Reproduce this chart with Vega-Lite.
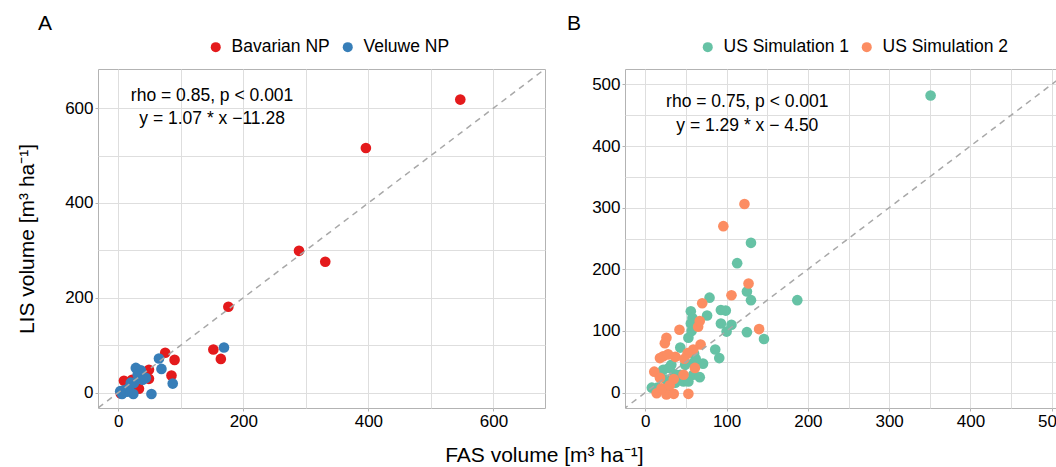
{
  "$schema": "https://vega.github.io/schema/vega-lite/v6.json",
  "autosize": {"type": "pad"},
  "padding": {"left": 16, "top": 12, "right": 0, "bottom": 0},
  "background": "white",
  "title": {"text": "FAS volume [m³ ha⁻¹]", "orient": "bottom", "anchor": "middle", "fontSize": 21, "fontWeight": "normal", "offset": 15, "color": "black"},
  "spacing": 20,
  "resolve": {"scale": {"color": "independent"}, "legend": {"color": "independent"}},
  "hconcat": [
    {
      "width": 447,
      "height": 339,
      "title": {"text": "A", "anchor": "start", "frame": "group", "dx": -60, "fontSize": 21, "fontWeight": "normal", "color": "black"},
      "encoding": {
        "x": {"field": "fas", "type": "quantitative", "scale": {"domain": [-32.5, 682.5], "nice": false, "zero": false},
          "axis": {"title": null, "values": [0, 100, 200, 300, 400, 500, 600], "labelExpr": "datum.value % 200 == 0 ? datum.label : ''", "labelFlush": false,
            "tickColor": {"condition": {"test": "datum.value % 200 != 0", "value": "transparent"}, "value": "#B3B3B3"}}},
        "y": {"field": "lis", "type": "quantitative", "scale": {"domain": [-32.5, 682.5], "nice": false, "zero": false},
          "axis": {"title": "LIS volume [m³ ha⁻¹]", "titlePadding": 27, "values": [0, 100, 200, 300, 400, 500, 600], "labelExpr": "datum.value % 200 == 0 ? datum.label : ''",
            "tickColor": {"condition": {"test": "datum.value % 200 != 0", "value": "transparent"}, "value": "#B3B3B3"}}}
      },
      "layer": [
        {
          "data": {"values": [
            {"site": "Bavarian NP", "fas": 547, "lis": 618},
            {"site": "Bavarian NP", "fas": 396, "lis": 516},
            {"site": "Bavarian NP", "fas": 289, "lis": 299},
            {"site": "Bavarian NP", "fas": 331, "lis": 276},
            {"site": "Bavarian NP", "fas": 176, "lis": 181},
            {"site": "Bavarian NP", "fas": 152, "lis": 91},
            {"site": "Bavarian NP", "fas": 164, "lis": 71},
            {"site": "Bavarian NP", "fas": 90, "lis": 69},
            {"site": "Bavarian NP", "fas": 75, "lis": 84},
            {"site": "Bavarian NP", "fas": 85, "lis": 36},
            {"site": "Bavarian NP", "fas": 49, "lis": 48},
            {"site": "Bavarian NP", "fas": 49, "lis": 29},
            {"site": "Bavarian NP", "fas": 33, "lis": 8},
            {"site": "Bavarian NP", "fas": 9, "lis": 25},
            {"site": "Bavarian NP", "fas": 22, "lis": 27},
            {"site": "Bavarian NP", "fas": 36, "lis": 41},
            {"site": "Bavarian NP", "fas": 4, "lis": -2},
            {"site": "Veluwe NP", "fas": 169, "lis": 95},
            {"site": "Veluwe NP", "fas": 65, "lis": 72},
            {"site": "Veluwe NP", "fas": 69, "lis": 50},
            {"site": "Veluwe NP", "fas": 87, "lis": 19},
            {"site": "Veluwe NP", "fas": 53, "lis": -3},
            {"site": "Veluwe NP", "fas": 28, "lis": 52},
            {"site": "Veluwe NP", "fas": 36, "lis": 47},
            {"site": "Veluwe NP", "fas": 44, "lis": 31},
            {"site": "Veluwe NP", "fas": 25, "lis": 20},
            {"site": "Veluwe NP", "fas": 17, "lis": 10},
            {"site": "Veluwe NP", "fas": 9, "lis": 5},
            {"site": "Veluwe NP", "fas": 24, "lis": -3},
            {"site": "Veluwe NP", "fas": 6, "lis": -3},
            {"site": "Veluwe NP", "fas": 20, "lis": 21},
            {"site": "Veluwe NP", "fas": 31, "lis": 38},
            {"site": "Veluwe NP", "fas": 39, "lis": 27},
            {"site": "Veluwe NP", "fas": 14, "lis": 2},
            {"site": "Veluwe NP", "fas": 3, "lis": 3}
          ]},
          "mark": {"type": "circle", "size": 113, "opacity": 1},
          "encoding": {
            "color": {"field": "site", "type": "nominal", "scale": {"domain": ["Bavarian NP", "Veluwe NP"], "range": ["#E41A1C", "#377EB8"]},
              "legend": {"title": null, "orient": "none", "direction": "horizontal", "legendX": 109, "legendY": -31}}
          }
        },
        {
          "data": {"values": [{"fas": -60, "lis": -60}, {"fas": 760, "lis": 760}]},
          "mark": {"type": "line", "strokeDash": [6, 5], "color": "#A8A8A8", "strokeWidth": 1.5, "clip": true}
        },
        {
          "data": {"values": [
            {"fas": 150, "lis": 626, "label": "rho = 0.85, p < 0.001"},
            {"fas": 150, "lis": 578, "label": "y = 1.07 * x −11.28"}
          ]},
          "mark": {"type": "text", "fontSize": 17.5, "baseline": "middle", "align": "center", "color": "black"},
          "encoding": {"text": {"field": "label", "type": "nominal"}}
        }
      ]
    },
    {
      "width": 447,
      "height": 339,
      "title": {"text": "B", "anchor": "start", "frame": "group", "dx": -58, "fontSize": 21, "fontWeight": "normal", "color": "black"},
      "encoding": {
        "x": {"field": "fas", "type": "quantitative", "scale": {"domain": [-25, 525], "nice": false, "zero": false},
          "axis": {"title": null, "values": [0, 50, 100, 150, 200, 250, 300, 350, 400, 450, 500], "labelExpr": "datum.value % 100 == 0 ? datum.label : ''", "labelFlush": false,
            "tickColor": {"condition": {"test": "datum.value % 100 != 0", "value": "transparent"}, "value": "#B3B3B3"}}},
        "y": {"field": "lis", "type": "quantitative", "scale": {"domain": [-25, 525], "nice": false, "zero": false},
          "axis": {"title": null, "values": [0, 50, 100, 150, 200, 250, 300, 350, 400, 450, 500], "labelExpr": "datum.value % 100 == 0 ? datum.label : ''",
            "tickColor": {"condition": {"test": "datum.value % 100 != 0", "value": "transparent"}, "value": "#B3B3B3"}}}
      },
      "layer": [
        {
          "data": {"values": [
            {"sim": "US Simulation 1", "fas": 351, "lis": 482},
            {"sim": "US Simulation 1", "fas": 130, "lis": 243},
            {"sim": "US Simulation 1", "fas": 113, "lis": 210},
            {"sim": "US Simulation 1", "fas": 125, "lis": 164},
            {"sim": "US Simulation 1", "fas": 130, "lis": 150},
            {"sim": "US Simulation 1", "fas": 187, "lis": 150},
            {"sim": "US Simulation 1", "fas": 79, "lis": 154},
            {"sim": "US Simulation 1", "fas": 56, "lis": 132},
            {"sim": "US Simulation 1", "fas": 58, "lis": 121},
            {"sim": "US Simulation 1", "fas": 76, "lis": 125},
            {"sim": "US Simulation 1", "fas": 93, "lis": 134},
            {"sim": "US Simulation 1", "fas": 99, "lis": 133},
            {"sim": "US Simulation 1", "fas": 93, "lis": 112},
            {"sim": "US Simulation 1", "fas": 100, "lis": 99},
            {"sim": "US Simulation 1", "fas": 106, "lis": 110},
            {"sim": "US Simulation 1", "fas": 125, "lis": 98},
            {"sim": "US Simulation 1", "fas": 146, "lis": 87},
            {"sim": "US Simulation 1", "fas": 56, "lis": 112},
            {"sim": "US Simulation 1", "fas": 53, "lis": 89},
            {"sim": "US Simulation 1", "fas": 43, "lis": 73},
            {"sim": "US Simulation 1", "fas": 86, "lis": 70},
            {"sim": "US Simulation 1", "fas": 91, "lis": 56},
            {"sim": "US Simulation 1", "fas": 71, "lis": 47},
            {"sim": "US Simulation 1", "fas": 59, "lis": 48},
            {"sim": "US Simulation 1", "fas": 49, "lis": 45},
            {"sim": "US Simulation 1", "fas": 32, "lis": 45},
            {"sim": "US Simulation 1", "fas": 22, "lis": 37},
            {"sim": "US Simulation 1", "fas": 18, "lis": 26},
            {"sim": "US Simulation 1", "fas": 26, "lis": 21},
            {"sim": "US Simulation 1", "fas": 37, "lis": 16},
            {"sim": "US Simulation 1", "fas": 47, "lis": 18},
            {"sim": "US Simulation 1", "fas": 59, "lis": 29},
            {"sim": "US Simulation 1", "fas": 67, "lis": 25},
            {"sim": "US Simulation 1", "fas": 8, "lis": 8},
            {"sim": "US Simulation 1", "fas": 26, "lis": 6},
            {"sim": "US Simulation 1", "fas": 53, "lis": 18},
            {"sim": "US Simulation 1", "fas": 43, "lis": 29},
            {"sim": "US Simulation 1", "fas": 29, "lis": 40},
            {"sim": "US Simulation 1", "fas": 15, "lis": 8},
            {"sim": "US Simulation 1", "fas": 62, "lis": 55},
            {"sim": "US Simulation 1", "fas": 57, "lis": 100},
            {"sim": "US Simulation 1", "fas": 60, "lis": 63},
            {"sim": "US Simulation 1", "fas": 36, "lis": 30},
            {"sim": "US Simulation 2", "fas": 122, "lis": 306},
            {"sim": "US Simulation 2", "fas": 96, "lis": 270},
            {"sim": "US Simulation 2", "fas": 127, "lis": 177},
            {"sim": "US Simulation 2", "fas": 106, "lis": 158},
            {"sim": "US Simulation 2", "fas": 70, "lis": 145},
            {"sim": "US Simulation 2", "fas": 140, "lis": 103},
            {"sim": "US Simulation 2", "fas": 42, "lis": 102},
            {"sim": "US Simulation 2", "fas": 65, "lis": 107},
            {"sim": "US Simulation 2", "fas": 67, "lis": 116},
            {"sim": "US Simulation 2", "fas": 26, "lis": 89},
            {"sim": "US Simulation 2", "fas": 24, "lis": 80},
            {"sim": "US Simulation 2", "fas": 68, "lis": 78},
            {"sim": "US Simulation 2", "fas": 59, "lis": 70},
            {"sim": "US Simulation 2", "fas": 52, "lis": 64},
            {"sim": "US Simulation 2", "fas": 22, "lis": 59},
            {"sim": "US Simulation 2", "fas": 18, "lis": 56},
            {"sim": "US Simulation 2", "fas": 37, "lis": 58},
            {"sim": "US Simulation 2", "fas": 48, "lis": 55},
            {"sim": "US Simulation 2", "fas": 61, "lis": 40},
            {"sim": "US Simulation 2", "fas": 11, "lis": 34},
            {"sim": "US Simulation 2", "fas": 18, "lis": 24},
            {"sim": "US Simulation 2", "fas": 35, "lis": 22},
            {"sim": "US Simulation 2", "fas": 47, "lis": 29},
            {"sim": "US Simulation 2", "fas": 14, "lis": -1},
            {"sim": "US Simulation 2", "fas": 26, "lis": -3},
            {"sim": "US Simulation 2", "fas": 35, "lis": -2},
            {"sim": "US Simulation 2", "fas": 53, "lis": -2},
            {"sim": "US Simulation 2", "fas": 20, "lis": 7},
            {"sim": "US Simulation 2", "fas": 28, "lis": 62},
            {"sim": "US Simulation 2", "fas": 30, "lis": 12}
          ]},
          "mark": {"type": "circle", "size": 113, "opacity": 1},
          "encoding": {
            "color": {"field": "sim", "type": "nominal", "scale": {"domain": ["US Simulation 1", "US Simulation 2"], "range": ["#66C2A5", "#FC8D62"]},
              "legend": {"title": null, "orient": "none", "direction": "horizontal", "legendX": 74, "legendY": -31}}
          }
        },
        {
          "data": {"values": [{"fas": -60, "lis": -60}, {"fas": 600, "lis": 600}]},
          "mark": {"type": "line", "strokeDash": [6, 5], "color": "#A8A8A8", "strokeWidth": 1.5, "clip": true}
        },
        {
          "data": {"values": [
            {"fas": 125.5, "lis": 472, "label": "rho = 0.75, p < 0.001"},
            {"fas": 125.5, "lis": 433, "label": "y = 1.29 * x − 4.50"}
          ]},
          "mark": {"type": "text", "fontSize": 17.5, "baseline": "middle", "align": "center", "color": "black"},
          "encoding": {"text": {"field": "label", "type": "nominal"}}
        }
      ]
    }
  ],
  "config": {
    "font": "Liberation Sans",
    "view": {"stroke": "#B3B3B3", "strokeWidth": 1},
    "axis": {"domain": false, "grid": true, "gridColor": "#DEDEDE", "gridWidth": 1, "tickSize": 3, "tickWidth": 1, "labelFontSize": 17, "labelColor": "black", "labelPadding": 2, "titleFontSize": 21, "titleFontWeight": "normal", "titleColor": "black", "labelFont": "Liberation Sans", "titleFont": "Liberation Sans"},
    "legend": {"labelFontSize": 17.5, "labelColor": "black", "symbolType": "circle", "symbolSize": 100, "symbolStrokeWidth": 0, "labelOffset": 7, "columnPadding": 9, "padding": 0, "labelFont": "Liberation Sans"},
    "title": {"font": "Liberation Sans"},
    "text": {"font": "Liberation Sans"}
  }
}
